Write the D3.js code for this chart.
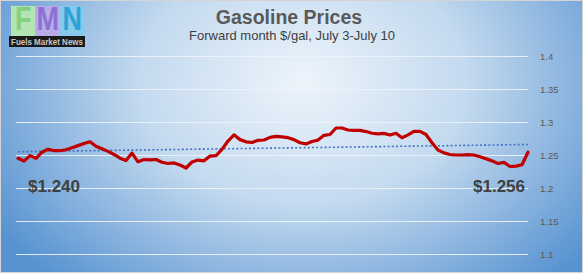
<!DOCTYPE html>
<html>
<head>
<meta charset="utf-8">
<script src="https://cdn.jsdelivr.net/npm/d3@7"></script>
<style>
  body { margin: 0; background: #fff; }
  svg text { font-family: "Liberation Sans", Arial, sans-serif; }
</style>
</head>
<body>
<div id="chart"></div>
<script>
// Data_____________________________________________________
const title = 'Gasoline Prices';
const subtitle = 'Forward month $/gal, July 3-July 10';
const yTicks = [1.1, 1.15, 1.2, 1.25, 1.3, 1.35, 1.4];
const startLabel = '$1.240';
const endLabel = '$1.256';
// price readings, July 3 -> July 10 (evenly spaced)
const prices = [
  1.2450, 1.2408, 1.2491, 1.2450, 1.2542, 1.2588, 1.2565, 1.2565, 1.2579, 1.2611,
  1.2642, 1.2673, 1.2702, 1.2633, 1.2594, 1.2555, 1.2508, 1.2452, 1.2417, 1.2529,
  1.2397, 1.2432, 1.2426, 1.2432, 1.2391, 1.2371, 1.2380, 1.2348, 1.2303, 1.2394,
  1.2423, 1.2412, 1.2483, 1.2491, 1.2585, 1.2712, 1.2805, 1.2733, 1.2700, 1.2689,
  1.2723, 1.2727, 1.2767, 1.2782, 1.2774, 1.2762, 1.2733, 1.2686, 1.2668, 1.2705,
  1.2726, 1.2798, 1.2811, 1.2909, 1.2909, 1.2879, 1.2873, 1.2874, 1.2855, 1.2830,
  1.2821, 1.2827, 1.2803, 1.2829, 1.2762, 1.2805, 1.2859, 1.2858, 1.2811, 1.2685,
  1.2576, 1.2532, 1.2508, 1.2500, 1.2500, 1.2506, 1.2500, 1.2474, 1.2444, 1.2411,
  1.2371, 1.2388, 1.2326, 1.2332, 1.2353, 1.2542
];

// Sizes______________________________________________________
const width = 583;
const height = 273;
const plot = { left: 16, right: 528, top: 56, bottom: 254 };

const svg = d3.select('#chart')
  .append('svg')
  .attr('width', width)
  .attr('height', height);

// Background gradient
const defs = svg.append('defs');
const grad = defs.append('radialGradient')
  .attr('id', 'bg')
  .attr('cx', '52%').attr('cy', '30%')
  .attr('r', '62%')
  .attr('gradientTransform', 'translate(0.52,0.3) scale(1,1.6) translate(-0.52,-0.3)');
grad.append('stop').attr('offset', '0%').attr('stop-color', '#edf4fb');
grad.append('stop').attr('offset', '45%').attr('stop-color', '#c4daef');
grad.append('stop').attr('offset', '100%').attr('stop-color', '#5893d1');

svg.append('rect')
  .attr('x', 0.5).attr('y', 0.5)
  .attr('width', width - 1).attr('height', height - 1)
  .attr('fill', 'url(#bg)')
  .attr('stroke', '#d4d4d4');

// Scales_____________________________________________________
const x = d3.scaleLinear()
  .domain([0, prices.length - 1])
  .range([18, 528]);
const y = d3.scaleLinear()
  .domain([1.1, 1.4])
  .range([plot.bottom, plot.top]);

// Gridlines + right axis labels
const yAxis = d3.axisRight(y)
  .tickValues(yTicks)
  .tickSize(-(plot.right - plot.left))
  .tickPadding(12)
  .tickFormat(d3.format('~g'));

const axisG = svg.append('g')
  .attr('transform', `translate(${plot.right},0)`)
  .call(yAxis);
axisG.select('.domain').remove();
axisG.selectAll('.tick line')
  .attr('stroke', '#eef3f9')
  .attr('stroke-opacity', 0.9)
  .attr('stroke-width', 1);
axisG.selectAll('.tick text')
  .attr('fill', '#5a5a5a')
  .style('font-size', '9.5px');

// Trend line (linear regression)
const n = prices.length;
const mx = d3.mean(prices, (d, i) => i);
const my = d3.mean(prices);
let sxy = 0, sxx = 0;
prices.forEach((d, i) => { sxy += (i - mx) * (d - my); sxx += (i - mx) * (i - mx); });
const slope = sxy / sxx;
const icpt = my - slope * mx;
const trend = [0, n - 1].map(i => [i, icpt + slope * i]);

svg.append('path')
  .datum(trend)
  .attr('d', d3.line().x(d => x(d[0])).y(d => y(d[1])))
  .attr('fill', 'none')
  .attr('stroke', '#4472c4')
  .attr('stroke-width', 1.6)
  .attr('stroke-dasharray', '2,2.2');

// Price line
svg.append('path')
  .datum(prices)
  .attr('d', d3.line().x((d, i) => x(i)).y(d => y(d)).curve(d3.curveLinear))
  .attr('fill', 'none')
  .attr('stroke', '#c00000')
  .attr('stroke-width', 3.2)
  .attr('stroke-linejoin', 'round')
  .attr('stroke-linecap', 'round');

// Labels______________________________________________________
svg.append('text')
  .attr('x', 289).attr('y', 24)
  .attr('text-anchor', 'middle')
  .attr('fill', '#595959')
  .style('font-size', '19.5px')
  .style('font-weight', 'bold')
  .text(title);

svg.append('text')
  .attr('x', 292).attr('y', 40)
  .attr('text-anchor', 'middle')
  .attr('fill', '#404040')
  .style('font-size', '13px')
  .text(subtitle);

svg.append('text')
  .attr('x', 28).attr('y', 192)
  .attr('fill', '#404040')
  .style('font-size', '17px')
  .style('font-weight', 'bold')
  .text(startLabel);

svg.append('text')
  .attr('x', 525).attr('y', 192)
  .attr('text-anchor', 'end')
  .attr('fill', '#404040')
  .style('font-size', '17px')
  .style('font-weight', 'bold')
  .text(endLabel);

// Logo_______________________________________________________
const logo = svg.append('g').attr('transform', 'translate(11,6)');
const letters = [
  { ch: 'F', bg: '#b4e4b4', fg: '#84d07e' },
  { ch: 'M', bg: '#b9abe8', fg: '#8a72d4' },
  { ch: 'N', bg: '#86c9ea', fg: '#2ba2d8' }
];
const boxW = 24.5;
letters.forEach((l, i) => {
  logo.append('rect')
    .attr('x', i * boxW).attr('y', 0)
    .attr('width', boxW).attr('height', 30)
    .attr('fill', l.bg);
  logo.append('text')
    .attr('x', i * boxW + boxW / 2).attr('y', 24)
    .attr('text-anchor', 'middle')
    .attr('fill', l.fg)
    .style('font-size', '27px')
    .style('font-weight', 'bold')
    .attr('transform', `translate(${i * boxW + boxW / 2},24) scale(1,1.25) translate(${-(i * boxW + boxW / 2)},-24)`)
    .text(l.ch);
});
logo.append('rect')
  .attr('x', -2).attr('y', 30)
  .attr('width', 76).attr('height', 11)
  .attr('fill', '#1a1a1a');
logo.append('text')
  .attr('x', 36).attr('y', 39)
  .attr('text-anchor', 'middle')
  .attr('fill', '#c8c8c8')
  .style('font-size', '8.5px')
  .style('font-weight', 'bold')
  .attr('textLength', 72)
  .attr('lengthAdjust', 'spacingAndGlyphs')
  .text('Fuels Market News');
</script>
</body>
</html>
